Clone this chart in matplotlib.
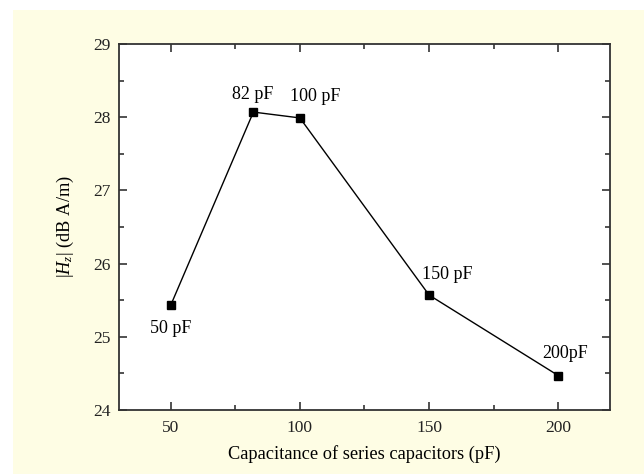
import matplotlib
matplotlib.use('Agg')
import matplotlib.pyplot as plt
import matplotlib.ticker as ticker
from matplotlib.patches import Rectangle

plt.rcParams['font.family'] = 'Liberation Serif'
plt.rcParams['mathtext.fontset'] = 'custom'
plt.rcParams['mathtext.rm'] = 'Liberation Serif'
plt.rcParams['mathtext.it'] = 'Liberation Serif:italic'

# Series capacitance (pF) vs field strength |Hz| (dB A/m)
capacitance = [50, 82, 100, 150, 200]
hz_db = [25.43, 28.07, 27.99, 25.57, 24.47]
point_labels = ['50 pF', '82 pF', '100 pF', '150 pF', '200pF']
label_offsets = [(0, -23), (-1, 18), (15, 21), (18, 21), (7, 22)]

fig = plt.figure(figsize=(6.44, 4.74), dpi=100)
fig.patch.set_facecolor('white')
# pale yellow panel behind the axes
panel = Rectangle((13 / 644, 0), 1, 1 - 10 / 474, transform=fig.transFigure,
                  facecolor='#FEFDE4', edgecolor='none', zorder=-10)
fig.add_artist(panel)

ax = fig.add_axes([119 / 644, 64 / 474, 491 / 644, 366 / 474])
ax.set_zorder(5)
ax.set_facecolor('white')

ax.plot(capacitance, hz_db, color='black', lw=1.0, marker='s', markersize=6.3,
        markerfacecolor='black', markeredgecolor='black')

for x, y, lab, off in zip(capacitance, hz_db, point_labels, label_offsets):
    ax.annotate(lab, (x, y), xytext=off, textcoords='offset pixels',
                ha='center', va='center', fontsize=13)

ax.set_xlim(30, 220)
ax.set_ylim(24, 29)
ax.xaxis.set_major_locator(ticker.FixedLocator([50, 100, 150, 200]))
ax.xaxis.set_minor_locator(ticker.MultipleLocator(25))
ax.yaxis.set_major_locator(ticker.MultipleLocator(1))
ax.yaxis.set_minor_locator(ticker.MultipleLocator(0.5))

ax.tick_params(which='both', direction='in', top=True, right=True,
               color='#333333', width=1.2, labelsize=12.5, labelcolor='#222222')
ax.tick_params(which='major', length=6, pad=6)
ax.tick_params(which='minor', length=3.5)
ax.tick_params(axis='x', which='major', pad=7)
for sp in ax.spines.values():
    sp.set_color('#333333')
    sp.set_linewidth(1.3)

ax.set_xlabel('Capacitance of series capacitors (pF)', fontsize=13.2, labelpad=7)
ax.set_ylabel(r'$|H_z|$ (dB A/m)', fontsize=13.2, labelpad=12)

fig.savefig('out.png', dpi=100, facecolor=fig.get_facecolor())
